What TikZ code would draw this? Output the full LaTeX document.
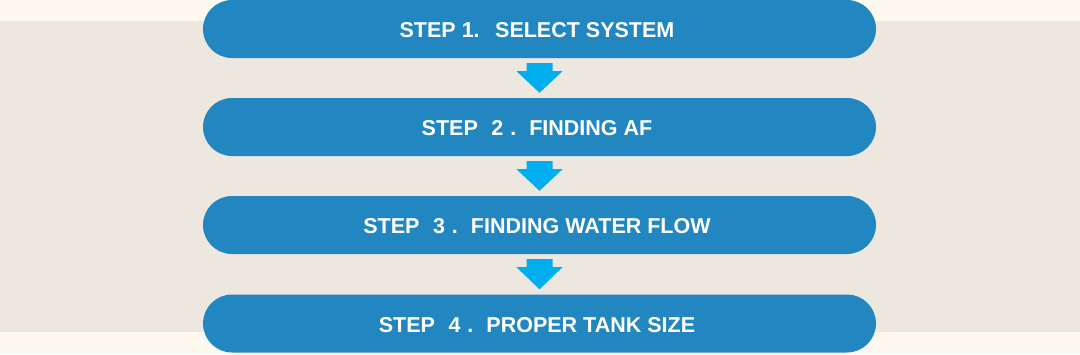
\documentclass[tikz,border=0pt]{standalone}
\usepackage{fontspec}
\setmainfont{Liberation Sans}
\usetikzlibrary{calc}
\definecolor{cream}{HTML}{FDF9EF}
\definecolor{band}{HTML}{ECE8DF}
\definecolor{boxc}{HTML}{2286C0}
\definecolor{arrowc}{HTML}{00AEEF}
\tikzset{
  stepbox/.style={fill=boxc, rounded corners=29pt, minimum width=673pt, minimum height=58pt,
    inner sep=0pt, text=white, text height=17.4pt, text depth=0pt,
    font=\fontsize{21.5pt}{24pt}\selectfont\bfseries},
}
\newcommand{\fw}[1]{\hspace*{13.5pt}#1\hspace*{7pt}.\hspace*{13pt}}
\begin{document}
\begin{tikzpicture}[x=1pt,y=-1pt]
\useasboundingbox (0,0) rectangle (1080,354);
\fill[cream] (0,0) rectangle (1080,354);
\fill[band] (0,21) rectangle (1080,332);
\node[stepbox] (b1) at (539.5,29) {STEP 1.\hspace*{9.5pt} SELECT SYSTEM\hspace*{5pt}};
\node[stepbox] (b2) at (539.5,127) {STEP\fw{2}FINDING AF\hspace*{5pt}};
\node[stepbox] (b3) at (539.5,225) {STEP\fw{3}FINDING WATER FLOW\hspace*{5pt}};
\node[stepbox] (b4) at (539.5,323.5) {STEP\fw{4}PROPER TANK SIZE\hspace*{5pt}};
\foreach \a/\b in {b1/b2,b2/b3,b3/b4}{
  \fill[arrowc] ($(\a.south)+(-13,5)$) -- ($(\a.south)+(13,5)$) -- ($(\a.south)+(13,13)$)
    -- ($(\a.south)+(23,13)$) -- ($(\b.north)+(0,-5)$) -- ($(\a.south)+(-23,13)$)
    -- ($(\a.south)+(-13,13)$) -- cycle;
}
\end{tikzpicture}
\end{document}
